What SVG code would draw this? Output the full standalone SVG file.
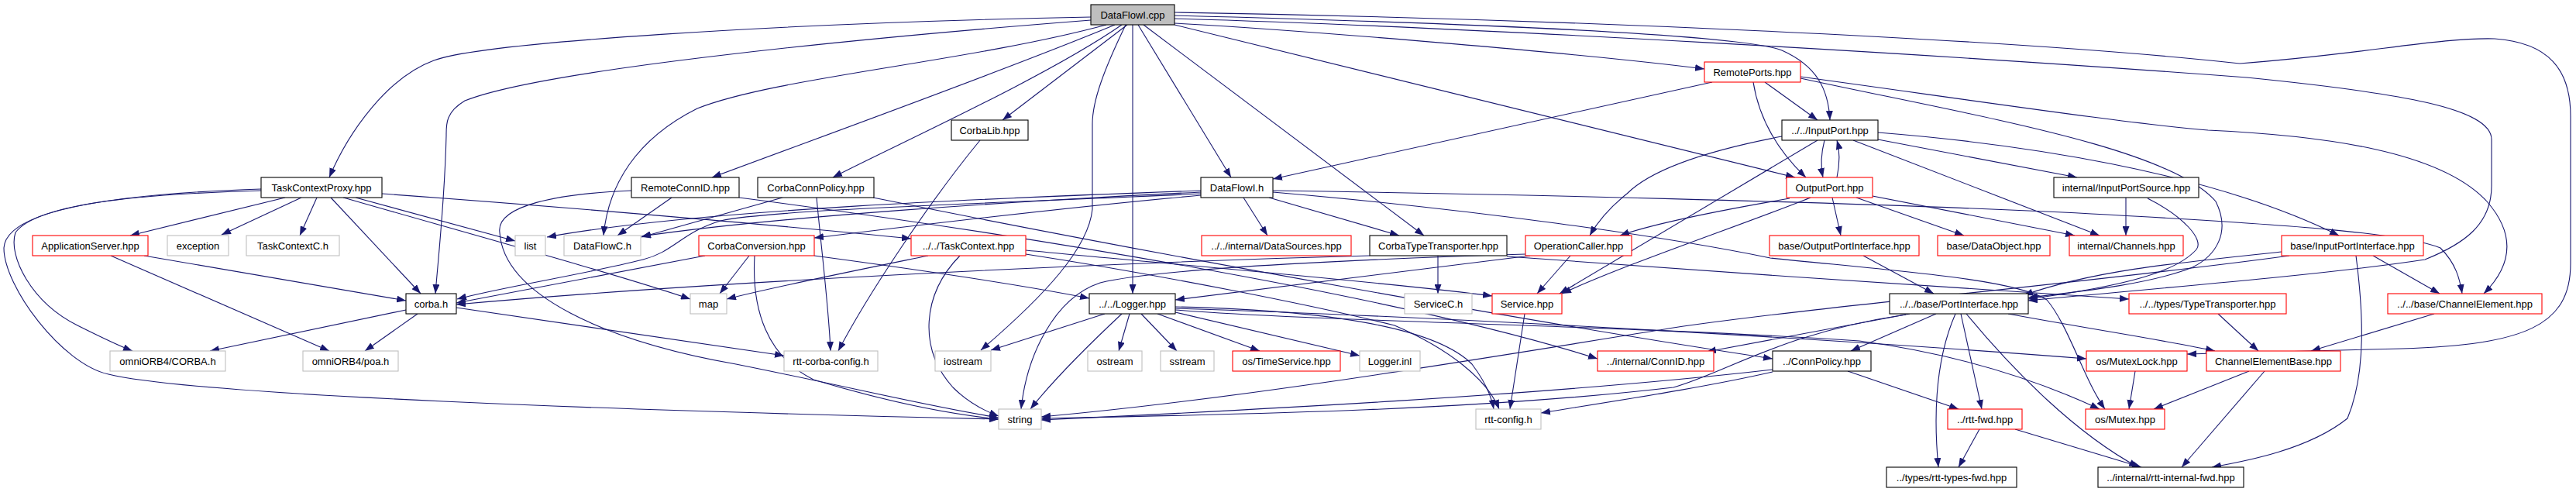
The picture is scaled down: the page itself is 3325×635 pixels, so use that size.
<svg xmlns="http://www.w3.org/2000/svg" width="3325" height="635" viewBox="0 0 3325 635">
<style>
.e{fill:none;stroke:#191970;stroke-width:1.1;marker-end:url(#a)}
rect{fill:#fff;stroke-width:1.1}
.k rect{stroke:#000}
.r rect{stroke:#ff0000}
.g rect{stroke:#bfbfbf}
.root rect{fill:#bfbfbf;stroke:#000}
text{font-family:"Liberation Sans",Arial,sans-serif;font-size:13px;text-anchor:middle;fill:#000}
</style>
<defs>
<marker id="a" markerWidth="12" markerHeight="9" refX="12" refY="4.5" orient="auto" markerUnits="userSpaceOnUse"><path d="M0,0 L12,4.5 L0,9 z" fill="#191970"/></marker>
</defs>
<rect x="0" y="0" width="3325" height="635" style="fill:#fff;stroke:none"/>
<g id="edges">
<path class="e" d="M1408,22 C1000,30 620,55 560,78 C500,100 450,170 425,229"/>
<path class="e" d="M1408,26 C1100,50 700,90 600,130 C575,145 576,160 576,175 C574,260 565,340 562,379"/>
<path class="e" d="M1428,32 C1250,80 1000,100 900,140 C820,180 785,240 779,304"/>
<path class="e" d="M1439,32 C1300,90 1050,180 919,229"/>
<path class="e" d="M1448,32 C1350,100 1150,190 1075,229"/>
<path class="e" d="M1455,32 L1294,155"/>
<path class="e" d="M1453,32 C1425,90 1410,130 1410,160 L1410,270 C1405,320 1350,380 1266,452"/>
<path class="e" d="M1462,32 L1462,379"/>
<path class="e" d="M1469,32 L1589,229"/>
<path class="e" d="M1476,32 L1838,304"/>
<path class="e" d="M1516,30 C1700,40 2050,70 2200,89"/>
<path class="e" d="M1516,32 L2317,229"/>
<path class="e" d="M1516,20 C1900,30 2250,45 2300,65 C2345,85 2360,115 2362,155"/>
<path class="e" d="M1516,16 C2000,24 2600,50 2891,82 C3050,70 3150,48 3220,50 C3290,55 3318,90 3318,150 L3318,340 C3318,420 3260,445 3100,450 L2823,457"/>
<path class="e" d="M1516,24 C1900,35 2500,70 2900,100 C3100,120 3216,140 3216,180 L3216,240 C3216,290 3180,315 3130,335 C3000,355 2750,375 2618,388"/>
<path class="e" d="M2278,106 L2346,155"/>
<path class="e" d="M2263,106 C2270,150 2290,190 2331,229"/>
<path class="e" d="M2210,106 L1643,231"/>
<path class="e" d="M2324,99 C2550,130 2750,160 2850,168 C3000,175 3150,195 3210,260 C3245,300 3245,340 3206,379"/>
<path class="e" d="M2324,101 C2550,150 2800,190 2860,260 C2880,300 2860,330 2830,345 C2780,365 2700,375 2618,384"/>
<path class="e" d="M2355,181 C2350,200 2350,215 2353,229"/>
<path class="e" d="M2300,176 C2200,195 2130,220 2100,250 C2075,270 2060,290 2052,304"/>
<path class="e" d="M2346,181 L2013,379"/>
<path class="e" d="M2424,180 L2681,229"/>
<path class="e" d="M2392,181 L2710,304"/>
<path class="e" d="M2424,171 C2600,185 2850,220 3019,304"/>
<path class="e" d="M2371,229 C2375,210 2375,195 2371,181"/>
<path class="e" d="M2365,255 L2376,304"/>
<path class="e" d="M2396,255 L2535,304"/>
<path class="e" d="M2417,253 L2678,304"/>
<path class="e" d="M2310,256 C2200,275 2130,290 2091,304"/>
<path class="e" d="M2337,255 C2250,290 2100,340 2016,379"/>
<path class="e" d="M2744,255 L2744,304"/>
<path class="e" d="M2772,256 C2820,280 2845,310 2835,322 C2810,350 2750,368 2618,386"/>
<path class="e" d="M1550,246 C1300,255 900,270 706,306"/>
<path class="e" d="M1550,248 C1300,260 1000,280 828,305"/>
<path class="e" d="M1550,250 C1300,262 1000,270 930,285 C880,300 870,325 830,335 C750,355 650,370 590,386"/>
<path class="e" d="M1550,252 C1350,270 1150,295 1051,307"/>
<path class="e" d="M1605,255 L1636,304"/>
<path class="e" d="M1638,255 L1806,304"/>
<path class="e" d="M1643,246 C1900,250 2400,260 2720,277 C2950,290 3100,300 3150,320 C3170,340 3175,360 3178,379"/>
<path class="e" d="M1643,248 C1900,270 2150,305 2285,333 C2450,350 2600,360 2642,387 C2670,420 2690,490 2717,528"/>
<path class="e" d="M368,255 L168,304"/>
<path class="e" d="M389,255 L286,303"/>
<path class="e" d="M409,255 L387,304"/>
<path class="e" d="M427,255 L543,379"/>
<path class="e" d="M459,255 L665,311"/>
<path class="e" d="M443,255 C600,300 800,355 891,386"/>
<path class="e" d="M493,250 C700,265 1000,290 1176,308"/>
<path class="e" d="M337,246 C200,250 50,260 20,300 C10,330 40,390 100,420 C130,435 150,445 171,453"/>
<path class="e" d="M337,244 C150,250 8,270 5,320 C5,370 80,470 140,483 C250,510 800,530 1289,541"/>
<path class="e" d="M186,330 L524,388"/>
<path class="e" d="M143,330 L425,453"/>
<path class="e" d="M524,400 L271,453"/>
<path class="e" d="M539,405 L471,453"/>
<path class="e" d="M589,397 L1012,459"/>
<path class="e" d="M867,255 L797,304"/>
<path class="e" d="M815,246 C720,250 640,265 645,300 C650,380 780,440 950,470 C1100,500 1200,525 1289,539"/>
<path class="e" d="M954,255 C1300,300 1800,380 2062,463"/>
<path class="e" d="M1010,255 L828,306"/>
<path class="e" d="M1054,255 C1060,320 1070,400 1072,453"/>
<path class="e" d="M1127,255 C1500,330 2000,420 2288,463"/>
<path class="e" d="M1265,181 C1200,260 1120,380 1082,453"/>
<path class="e" d="M910,330 L589,391"/>
<path class="e" d="M967,330 L929,379"/>
<path class="e" d="M974,330 C970,400 990,460 1050,490 C1150,520 1230,535 1289,541"/>
<path class="e" d="M1051,330 C1200,350 1320,368 1406,385"/>
<path class="e" d="M1198,330 C1100,350 1000,370 938,386"/>
<path class="e" d="M1239,330 C1190,380 1185,450 1230,500 C1250,520 1270,530 1289,537"/>
<path class="e" d="M1324,323 C1500,340 1800,365 1926,382"/>
<path class="e" d="M1324,328 C1500,355 1700,395 1800,420 C1870,450 1920,490 1935,528"/>
<path class="e" d="M1426,405 L1279,452"/>
<path class="e" d="M1448,405 C1400,450 1360,490 1330,528"/>
<path class="e" d="M1458,405 L1444,453"/>
<path class="e" d="M1473,405 L1519,453"/>
<path class="e" d="M1494,405 L1626,453"/>
<path class="e" d="M1517,403 L1755,459"/>
<path class="e" d="M1517,396 C1700,400 1850,420 1900,470 C1915,490 1925,510 1928,528"/>
<path class="e" d="M1517,398 C1900,410 2400,440 2693,463"/>
<path class="e" d="M1517,400 C1700,415 2100,420 2400,440 C2550,460 2650,500 2710,528"/>
<path class="e" d="M2027,330 L1984,379"/>
<path class="e" d="M1969,328 C1800,333 1500,345 1420,365 C1360,385 1325,460 1318,528"/>
<path class="e" d="M1975,330 L1517,387"/>
<path class="e" d="M1856,330 L1856,379"/>
<path class="e" d="M1768,330 C1400,340 900,365 589,393"/>
<path class="e" d="M1945,331 C2200,350 2500,370 2748,386"/>
<path class="e" d="M1968,405 L1949,528"/>
<path class="e" d="M2405,330 L2496,379"/>
<path class="e" d="M2945,325 C2800,340 2700,350 2612,381"/>
<path class="e" d="M2955,330 C2700,365 2350,395 2160,423 C1900,465 1600,515 1344,538"/>
<path class="e" d="M3063,330 L3149,379"/>
<path class="e" d="M3041,330 C3050,400 3055,480 3030,540 C2980,580 2900,595 2855,603"/>
<path class="e" d="M2524,405 C2500,460 2495,530 2502,603"/>
<path class="e" d="M2531,405 L2558,528"/>
<path class="e" d="M2538,405 C2600,480 2680,560 2760,603"/>
<path class="e" d="M2499,405 L2389,453"/>
<path class="e" d="M2465,405 L2203,454"/>
<path class="e" d="M2460,406 C2300,430 2230,480 2160,500 C1900,530 1600,535 1344,540"/>
<path class="e" d="M2592,405 C2700,425 2800,440 2859,453"/>
<path class="e" d="M2385,479 L2528,528"/>
<path class="e" d="M2288,477 C2000,510 1600,530 1344,542"/>
<path class="e" d="M2288,480 C2200,500 2100,515 1989,533"/>
<path class="e" d="M3142,405 L2983,453"/>
<path class="e" d="M2863,405 L2915,453"/>
<path class="e" d="M2903,479 L2780,528"/>
<path class="e" d="M2923,479 L2816,603"/>
<path class="e" d="M2756,479 L2748,528"/>
<path class="e" d="M2555,554 L2528,603"/>
<path class="e" d="M2601,554 L2764,603"/>
</g>
<g id="n_root" class="root"><rect x="1408" y="6" width="108" height="26"/><text x="1462" y="23.5">DataFlowI.cpp</text></g>
<g id="n_remoteports" class="r"><rect x="2200" y="80" width="124" height="26"/><text x="2262" y="97.5">RemotePorts.hpp</text></g>
<g id="n_corbalib" class="k"><rect x="1228" y="155" width="99" height="26"/><text x="1277.5" y="172.5">CorbaLib.hpp</text></g>
<g id="n_inputport" class="k"><rect x="2300" y="155" width="124" height="26"/><text x="2362" y="172.5">../../InputPort.hpp</text></g>
<g id="n_tcproxy" class="k"><rect x="337" y="229" width="156" height="26"/><text x="415" y="246.5">TaskContextProxy.hpp</text></g>
<g id="n_remoteconnid" class="k"><rect x="815" y="229" width="139" height="26"/><text x="884.5" y="246.5">RemoteConnID.hpp</text></g>
<g id="n_corbaconnpolicy" class="k"><rect x="978" y="229" width="150" height="26"/><text x="1053" y="246.5">CorbaConnPolicy.hpp</text></g>
<g id="n_dataflowih" class="k"><rect x="1550" y="229" width="93" height="26"/><text x="1596.5" y="246.5">DataFlowI.h</text></g>
<g id="n_outputport" class="r"><rect x="2306" y="229" width="111" height="26"/><text x="2361.5" y="246.5">OutputPort.hpp</text></g>
<g id="n_inputportsource" class="k"><rect x="2651" y="229" width="187" height="26"/><text x="2744.5" y="246.5">internal/InputPortSource.hpp</text></g>
<g id="n_appserver" class="r"><rect x="42" y="304" width="149" height="26"/><text x="116.5" y="321.5">ApplicationServer.hpp</text></g>
<g id="n_exception" class="g"><rect x="216" y="304" width="79" height="26"/><text x="255.5" y="321.5">exception</text></g>
<g id="n_taskcontextc" class="g"><rect x="318" y="304" width="120" height="26"/><text x="378" y="321.5">TaskContextC.h</text></g>
<g id="n_list" class="g"><rect x="665" y="304" width="39" height="26"/><text x="684.5" y="321.5">list</text></g>
<g id="n_dataflowc" class="g"><rect x="728" y="304" width="99" height="26"/><text x="777.5" y="321.5">DataFlowC.h</text></g>
<g id="n_corbaconversion" class="r"><rect x="902" y="304" width="149" height="26"/><text x="976.5" y="321.5">CorbaConversion.hpp</text></g>
<g id="n_taskcontext" class="r"><rect x="1176" y="304" width="148" height="26"/><text x="1250" y="321.5">../../TaskContext.hpp</text></g>
<g id="n_datasources" class="r"><rect x="1551" y="304" width="193" height="26"/><text x="1647.5" y="321.5">../../internal/DataSources.hpp</text></g>
<g id="n_corbatypetransporter" class="k"><rect x="1768" y="304" width="177" height="26"/><text x="1856.5" y="321.5">CorbaTypeTransporter.hpp</text></g>
<g id="n_operationcaller" class="r"><rect x="1969" y="304" width="137" height="26"/><text x="2037.5" y="321.5">OperationCaller.hpp</text></g>
<g id="n_outputportinterface" class="r"><rect x="2284" y="304" width="193" height="26"/><text x="2380.5" y="321.5">base/OutputPortInterface.hpp</text></g>
<g id="n_dataobject" class="r"><rect x="2501" y="304" width="145" height="26"/><text x="2573.5" y="321.5">base/DataObject.hpp</text></g>
<g id="n_channels" class="r"><rect x="2671" y="304" width="147" height="26"/><text x="2744.5" y="321.5">internal/Channels.hpp</text></g>
<g id="n_inputportinterface" class="r"><rect x="2945" y="304" width="183" height="26"/><text x="3036.5" y="321.5">base/InputPortInterface.hpp</text></g>
<g id="n_corbah" class="k"><rect x="524" y="379" width="65" height="26"/><text x="556.5" y="396.5">corba.h</text></g>
<g id="n_map" class="g"><rect x="891" y="379" width="47" height="26"/><text x="914.5" y="396.5">map</text></g>
<g id="n_logger" class="k"><rect x="1406" y="379" width="111" height="26"/><text x="1461.5" y="396.5">../../Logger.hpp</text></g>
<g id="n_servicec" class="g"><rect x="1813" y="379" width="87" height="26"/><text x="1856.5" y="396.5">ServiceC.h</text></g>
<g id="n_service" class="r"><rect x="1926" y="379" width="90" height="26"/><text x="1971" y="396.5">Service.hpp</text></g>
<g id="n_portinterface" class="k"><rect x="2439" y="379" width="179" height="26"/><text x="2528.5" y="396.5">../../base/PortInterface.hpp</text></g>
<g id="n_typetransporter" class="r"><rect x="2748" y="379" width="203" height="26"/><text x="2849.5" y="396.5">../../types/TypeTransporter.hpp</text></g>
<g id="n_channelelement" class="r"><rect x="3082" y="379" width="199" height="26"/><text x="3181.5" y="396.5">../../base/ChannelElement.hpp</text></g>
<g id="n_corbaorb" class="g"><rect x="142" y="453" width="149" height="26"/><text x="216.5" y="470.5">omniORB4/CORBA.h</text></g>
<g id="n_poa" class="g"><rect x="391" y="453" width="123" height="26"/><text x="452.5" y="470.5">omniORB4/poa.h</text></g>
<g id="n_rttcorbaconfig" class="g"><rect x="1012" y="453" width="121" height="26"/><text x="1072.5" y="470.5">rtt-corba-config.h</text></g>
<g id="n_iostream" class="g"><rect x="1207" y="453" width="72" height="26"/><text x="1243" y="470.5">iostream</text></g>
<g id="n_ostream" class="g"><rect x="1404" y="453" width="70" height="26"/><text x="1439" y="470.5">ostream</text></g>
<g id="n_sstream" class="g"><rect x="1498" y="453" width="69" height="26"/><text x="1532.5" y="470.5">sstream</text></g>
<g id="n_timeservice" class="r"><rect x="1591" y="453" width="139" height="26"/><text x="1660.5" y="470.5">os/TimeService.hpp</text></g>
<g id="n_loggerinl" class="g"><rect x="1755" y="453" width="78" height="26"/><text x="1794" y="470.5">Logger.inl</text></g>
<g id="n_connid" class="r"><rect x="2062" y="453" width="150" height="26"/><text x="2137" y="470.5">../internal/ConnID.hpp</text></g>
<g id="n_connpolicy" class="k"><rect x="2288" y="453" width="127" height="26"/><text x="2351.5" y="470.5">../ConnPolicy.hpp</text></g>
<g id="n_mutexlock" class="r"><rect x="2693" y="453" width="130" height="26"/><text x="2758" y="470.5">os/MutexLock.hpp</text></g>
<g id="n_channelelementbase" class="r"><rect x="2848" y="453" width="173" height="26"/><text x="2934.5" y="470.5">ChannelElementBase.hpp</text></g>
<g id="n_string" class="g"><rect x="1289" y="528" width="55" height="26"/><text x="1316.5" y="545.5">string</text></g>
<g id="n_rttconfig" class="g"><rect x="1905" y="528" width="84" height="26"/><text x="1947" y="545.5">rtt-config.h</text></g>
<g id="n_rttfwd" class="r"><rect x="2514" y="528" width="96" height="26"/><text x="2562" y="545.5">../rtt-fwd.hpp</text></g>
<g id="n_mutex" class="r"><rect x="2692" y="528" width="102" height="26"/><text x="2743" y="545.5">os/Mutex.hpp</text></g>
<g id="n_rtttypesfwd" class="k"><rect x="2435" y="603" width="168" height="26"/><text x="2519" y="620.5">../types/rtt-types-fwd.hpp</text></g>
<g id="n_rttinternalfwd" class="k"><rect x="2708" y="603" width="188" height="26"/><text x="2802" y="620.5">../internal/rtt-internal-fwd.hpp</text></g>
</svg>
